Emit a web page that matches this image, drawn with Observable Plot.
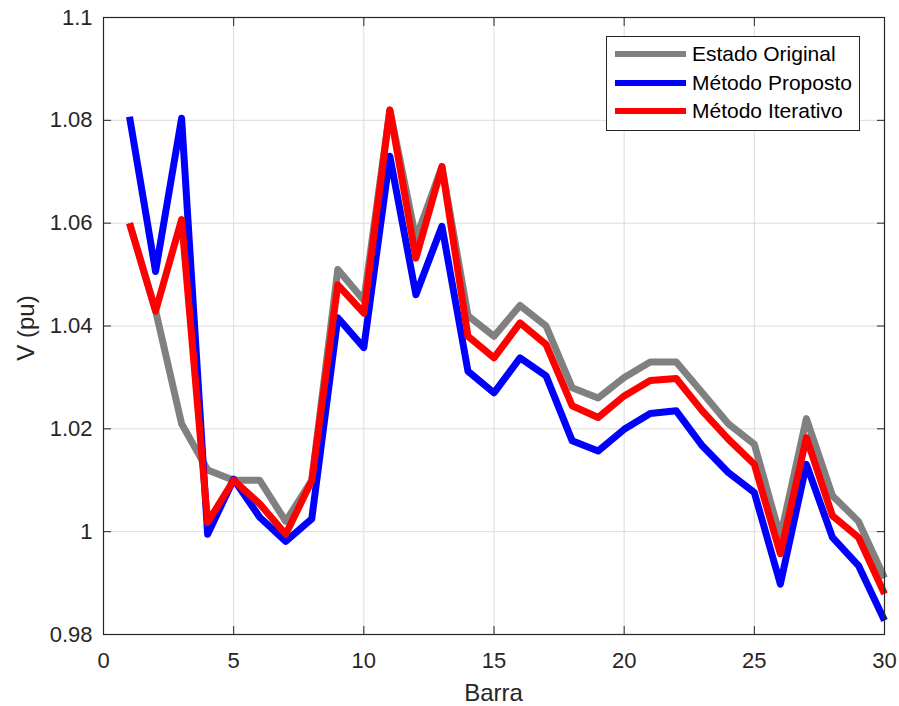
<!DOCTYPE html>
<html>
<head>
<meta charset="utf-8">
<script src="https://cdn.jsdelivr.net/npm/d3@7"></script>
<script src="https://cdn.jsdelivr.net/npm/@observablehq/plot@0.6"></script>
<style>
  html, body { margin: 0; padding: 0; background: #fff; }
  #wrap { position: relative; width: 899px; height: 706px; font-family: "Liberation Sans", Arial, Helvetica, sans-serif; color: #262626; }
  #legend { position: absolute; left: 606px; top: 36px; width: 254px; height: 95px; border: 1px solid #262626; background: #fff; box-sizing: border-box; }
  .item { position: absolute; left: 0; height: 28px; display: flex; align-items: center; font-size: 21px; color: #000; white-space: nowrap; }
  .swatch { width: 71px; height: 6px; margin-left: 8px; margin-right: 6px; }
  #xlabel { position: absolute; left: 103px; width: 781px; top: 679px; text-align: center; font-size: 24px; line-height: 1.15; }
  #ylabel { position: absolute; left: 26px; top: 328px; transform: translate(-50%, -50%) rotate(-90deg); font-size: 24px; white-space: nowrap; }
</style>
</head>
<body>
<div id="wrap"></div>
<script>
const barra = [1,2,3,4,5,6,7,8,9,10,11,12,13,14,15,16,17,18,19,20,21,22,23,24,25,26,27,28,29,30];
const estadoOriginal = [1.060,1.043,1.021,1.012,1.010,1.010,1.002,1.010,1.051,1.045,1.082,1.057,1.071,1.042,1.038,1.044,1.040,1.028,1.026,1.030,1.033,1.033,1.027,1.021,1.017,0.999,1.022,1.007,1.002,0.991];
const metodoProposto = [1.0807,1.0506,1.0804,0.9995,1.0102,1.0028,0.9981,1.0025,1.0416,1.0358,1.0730,1.0461,1.0594,1.0312,1.0270,1.0338,1.0303,1.0177,1.0157,1.0199,1.0230,1.0235,1.0167,1.0115,1.0076,0.9898,1.0131,0.9989,0.9934,0.9827];
const metodoIterativo = [1.0600,1.0429,1.0607,1.0018,1.0100,1.0054,0.9995,1.0099,1.0480,1.0425,1.0820,1.0532,1.0710,1.0380,1.0338,1.0406,1.0364,1.0245,1.0222,1.0264,1.0294,1.0298,1.0235,1.0180,1.0131,0.9957,1.0183,1.0031,0.9989,0.9879];
const seriesNames = ["Estado Original", "Método Proposto", "Método Iterativo"];
const seriesColors = ["#808080", "#0000ff", "#ff0000"];
const xTicks = [0,5,10,15,20,25,30];
const yTicks = [0.98,1.00,1.02,1.04,1.06,1.08,1.10];
const yTickLabels = ["0.98","1","1.02","1.04","1.06","1.08","1.1"];

const seriesValues = [estadoOriginal, metodoProposto, metodoIterativo];
const data = seriesNames.flatMap((name, s) => barra.map((b, i) => ({barra: b, v: seriesValues[s][i], serie: name})));

const axisColor = "#262626";
const chart = Plot.plot({
  width: 899,
  height: 706,
  marginLeft: 103,
  marginRight: 15,
  marginTop: 17,
  marginBottom: 72,
  style: {fontFamily: '"Liberation Sans", Arial, Helvetica, sans-serif', fontSize: "22px", color: axisColor, background: "#fff"},
  x: {domain: [0, 30]},
  y: {domain: [0.98, 1.1]},
  color: {domain: seriesNames, range: seriesColors},
  marks: [
    Plot.gridX(xTicks, {stroke: "#dcdcdc", strokeOpacity: 1, strokeWidth: 1}),
    Plot.gridY(yTicks, {stroke: "#dcdcdc", strokeOpacity: 1, strokeWidth: 1}),
    Plot.line(data, {x: "barra", y: "v", z: "serie", stroke: "serie", strokeWidth: 7, strokeLinejoin: "round", strokeLinecap: "butt"}),
    Plot.frame({stroke: axisColor, strokeWidth: 1.2}),
    Plot.axisX(xTicks, {anchor: "bottom", tickSize: 0, tickPadding: 18, label: null, fill: axisColor, fontSize: 22}),
    Plot.axisY(yTicks, {anchor: "left", tickSize: 0, tickPadding: 11, label: null, fill: axisColor, fontSize: 22, tickFormat: (d, i) => yTickLabels[i]}),
    Plot.axisX(xTicks, {anchor: "bottom", tickSize: -8, text: null, label: null, stroke: axisColor}),
    Plot.axisX(xTicks, {anchor: "top", tickSize: -8, text: null, label: null, stroke: axisColor}),
    Plot.axisY(yTicks, {anchor: "left", tickSize: -8, text: null, label: null, stroke: axisColor}),
    Plot.axisY(yTicks, {anchor: "right", tickSize: -8, text: null, label: null, stroke: axisColor})
  ]
});

const wrap = document.getElementById("wrap");
wrap.appendChild(chart);

const legend = document.createElement("div");
legend.id = "legend";
seriesNames.forEach((name, i) => {
  const it = document.createElement("div");
  it.className = "item";
  it.style.top = (3 + i * 28.5) + "px";
  const sw = document.createElement("span");
  sw.className = "swatch";
  sw.style.background = seriesColors[i];
  const tx = document.createElement("span");
  tx.textContent = name;
  it.appendChild(sw);
  it.appendChild(tx);
  legend.appendChild(it);
});
wrap.appendChild(legend);

const xl = document.createElement("div");
xl.id = "xlabel";
xl.textContent = "Barra";
wrap.appendChild(xl);
const yl = document.createElement("div");
yl.id = "ylabel";
yl.textContent = "V (pu)";
wrap.appendChild(yl);
</script>
</body>
</html>
